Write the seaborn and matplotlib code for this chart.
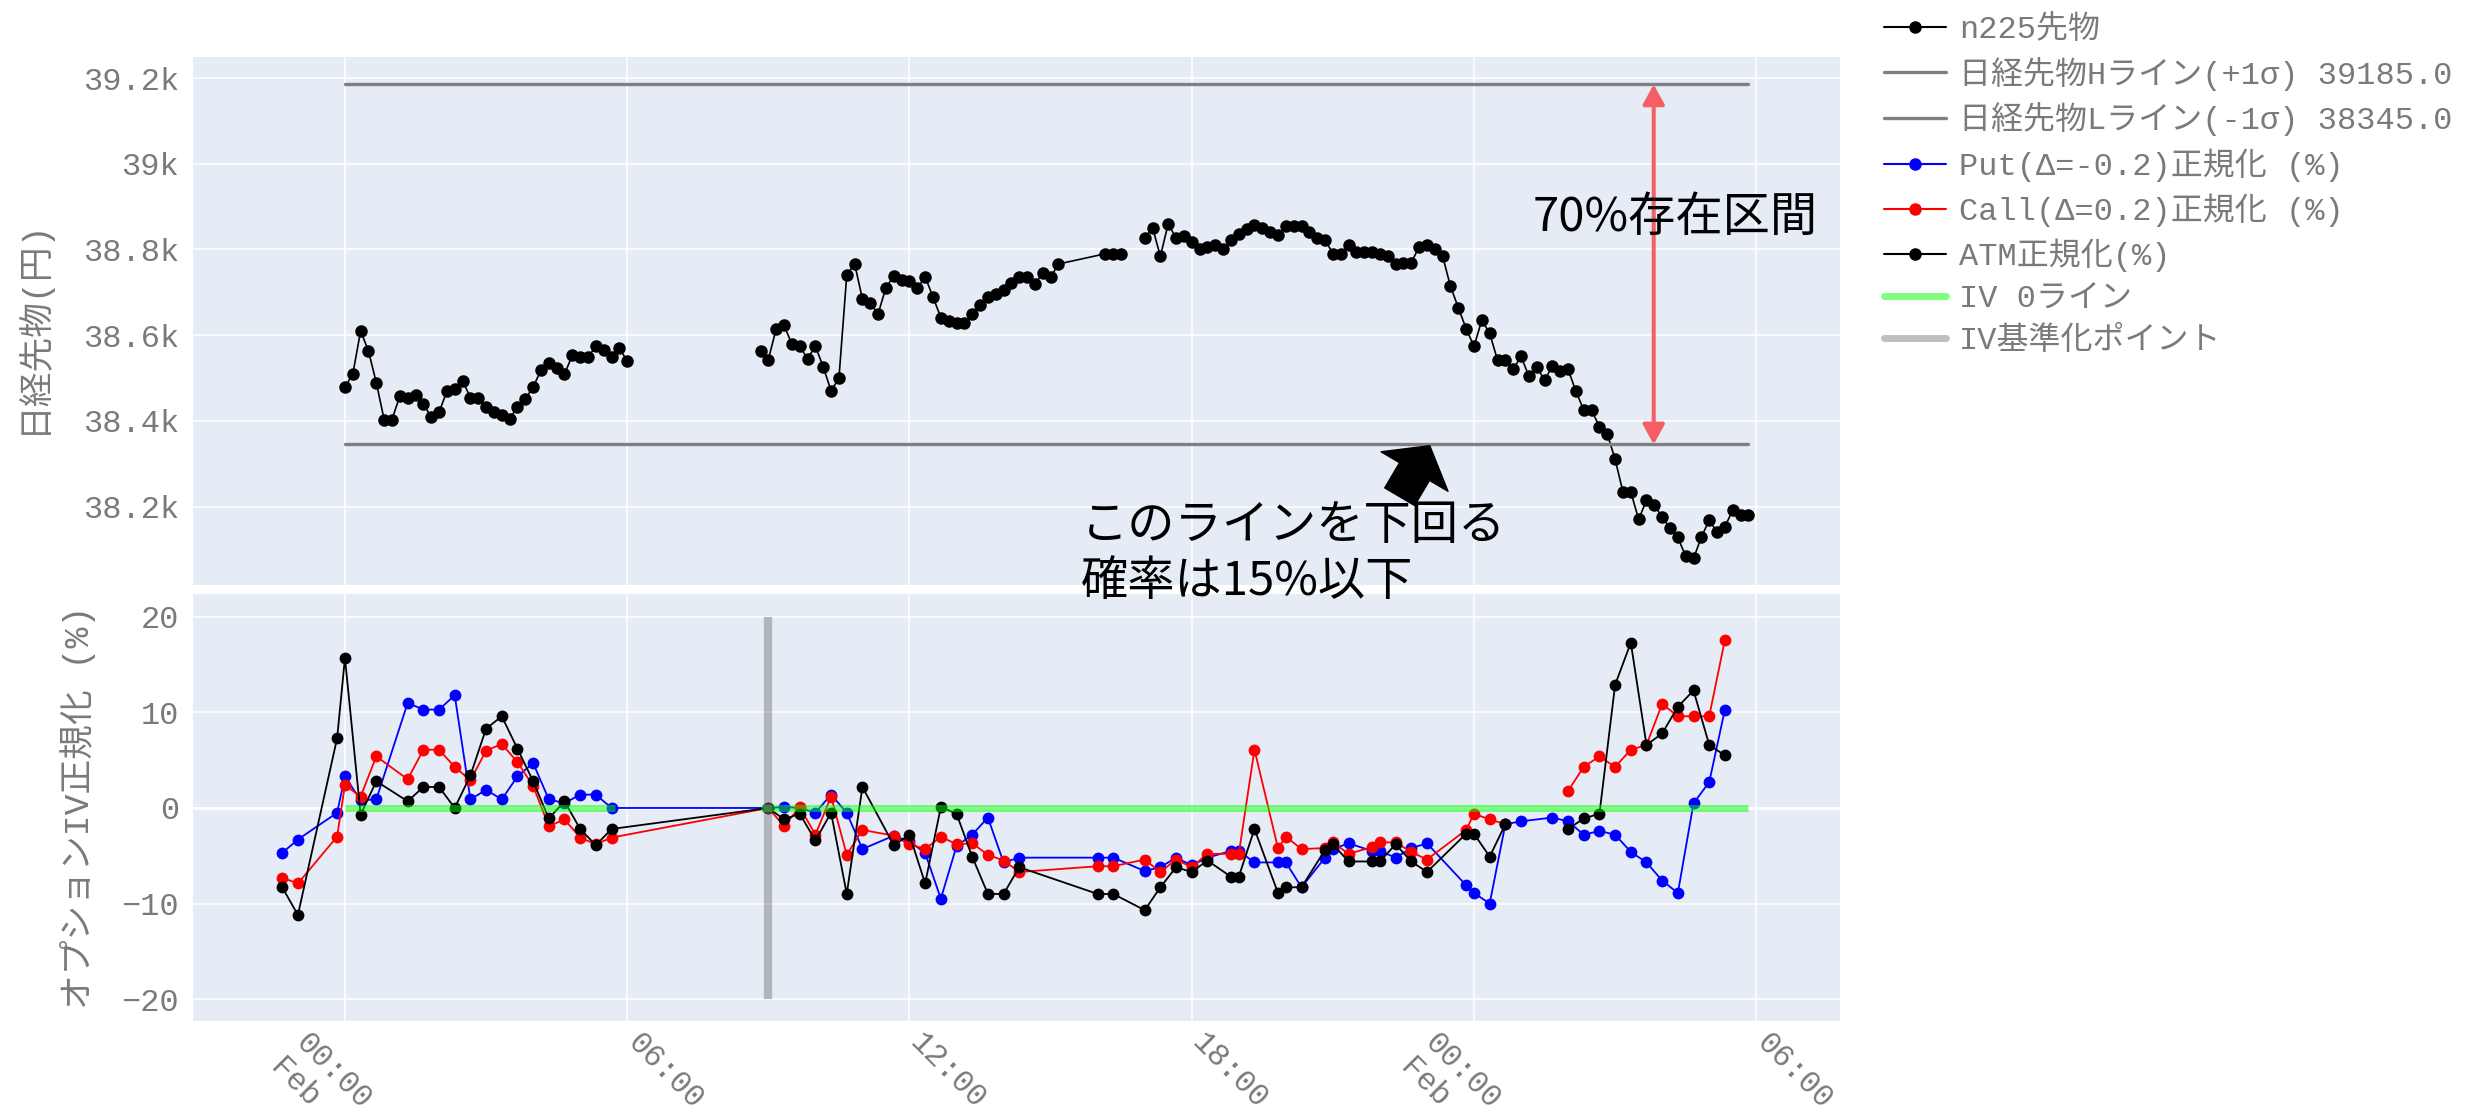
import numpy as np
import pandas as pd
import matplotlib
matplotlib.use("Agg")
import matplotlib.pyplot as plt
from matplotlib.lines import Line2D
import seaborn as sns

# ── futures (10-minute bars, minutes from Feb 00:00) ───────────────────────────
FUT_A_MIN = list(range(0, 361, 10))
FUT_A = [38479, 38509, 38610, 38563, 38489, 38403, 38403, 38458, 38454, 38460,
         38439, 38409, 38420, 38469, 38475, 38494, 38454, 38453, 38433, 38421,
         38413, 38404, 38433, 38450, 38479, 38518, 38535, 38524, 38509, 38553,
         38549, 38549, 38574, 38565, 38548, 38570, 38539]
FUT_B_MIN = list(range(530, 911, 10)) + [970, 980, 990]
FUT_B = [38563, 38543, 38615, 38623, 38579, 38574, 38545, 38574, 38526, 38470,
         38499, 38740, 38767, 38684, 38674, 38650, 38711, 38738, 38728, 38726,
         38709, 38736, 38689, 38641, 38633, 38629, 38629, 38650, 38670, 38689,
         38697, 38705, 38721, 38736, 38735, 38719, 38745, 38735, 38766,
         38790, 38790, 38790]
FUT_C_MIN = list(range(1020, 1791, 10))
FUT_C = [38826, 38851, 38784, 38860, 38826, 38831, 38818, 38800, 38806, 38810,
         38800, 38823, 38837, 38847, 38857, 38849, 38841, 38833, 38854, 38854,
         38855, 38841, 38826, 38823, 38790, 38790, 38810, 38794, 38794, 38794,
         38790, 38784, 38766, 38769, 38769, 38806, 38810, 38800, 38784, 38714,
         38664, 38615, 38574, 38635, 38604, 38542, 38542, 38520, 38551, 38504,
         38526, 38495, 38528, 38517, 38520, 38469, 38425, 38425, 38386, 38370,
         38310, 38234, 38234, 38170, 38215, 38203, 38176, 38149, 38128, 38084,
         38079, 38129, 38168, 38141, 38153, 38192, 38180, 38180]
H_LINE, L_LINE = 39185.0, 38345.0

# ── option IV normalised (%) ───────────────────────────────────────────────────
OPT_MIN = [-80, -60, -10, 0, 20, 40, 80, 100, 120, 140, 160, 180, 200, 220, 240,
           260, 280, 300, 320, 340,
           540, 560, 580, 600, 620, 640, 660, 700, 720, 740, 760, 780, 800, 820,
           840, 860, 960, 980, 1020, 1040, 1060, 1080, 1100, 1130, 1140, 1160,
           1190, 1200, 1220, 1250, 1260, 1280, 1310, 1320, 1340, 1360, 1380,
           1430, 1440, 1460, 1480, 1500, 1540, 1560, 1580, 1600, 1620, 1640,
           1660, 1680, 1700, 1720, 1740, 1760]
PUT = [-4.7, -3.3, -0.5, 3.3, 0.8, 0.9, 11.0, 10.3, 10.3, 11.8, 0.9, 1.9, 0.9,
       3.3, 4.7, 0.9, 0.5, 1.4, 1.4, 0.0,
       0.0, 0.1, 0.0, -0.5, 1.4, -0.5, -4.3, -2.9, -3.5, -4.7, -9.5, -4.0, -2.8,
       -1.0, -5.7, -5.2, -5.2, -5.2, -6.6, -6.2, -5.2, -6.0, -5.2, -4.5, -4.5,
       -5.7, -5.7, -5.7, -8.3, -5.2, -4.3, -3.7, -4.5, -4.5, -5.2, -4.2, -3.7,
       -8.1, -8.9, -10.0, -1.7, -1.4, -1.0, -1.4, -2.8, -2.4, -2.8, -4.6, -5.7,
       -7.6, -8.9, 0.5, 2.7, 10.3]
CALL = [-7.3, -7.9, -3.0, 2.4, 1.2, 5.4, 3.0, 6.1, 6.1, 4.3, 2.9, 6.0, 6.7, 4.8,
        2.3, -1.9, -1.2, -3.1, -3.8, -3.1,
        0.0, -1.9, 0.1, -2.8, 1.2, -4.9, -2.3, -2.9, -3.8, -4.3, -3.0, -3.8, -3.7,
        -4.9, -5.5, -6.7, -6.1, -6.1, -5.4, -6.7, -5.4, -6.2, -4.8, -4.8, -4.8,
        6.1, -4.2, -3.0, -4.3, -4.2, -3.6, -4.8, -4.1, -3.6, -3.6, -4.6, -5.4,
        -2.3, -0.6, -1.2, -1.7, np.nan, np.nan, 1.8, 4.3, 5.4, 4.3, 6.1, 6.6,
        10.9, 9.6, 9.6, 9.6, 17.6]
ATM = [-8.3, -11.2, 7.3, 15.7, -0.7, 2.8, 0.7, 2.2, 2.2, 0.0, 3.4, 8.3, 9.6, 6.2,
       2.8, -1.1, 0.7, -2.2, -3.9, -2.2,
       0.0, -1.2, -0.6, -3.4, -0.5, -9.0, 2.2, -3.9, -2.8, -7.9, 0.1, -0.6, -5.1,
       -9.0, -9.0, -6.2, -9.0, -9.0, -10.7, -8.3, -6.2, -6.7, -5.5, -7.2, -7.2,
       -2.2, -8.9, -8.3, -8.3, -4.4, -3.8, -5.6, -5.6, -5.6, -3.8, -5.6, -6.7,
       -2.7, -2.7, -5.1, -1.7, np.nan, np.nan, -2.2, -1.1, -0.6, 12.9, 17.3, 6.6,
       7.8, 10.6, 12.3, 6.6, 5.5]
IV0_START = [0, 530]
IV0_END = [345, 1790]
IV_BASE_MIN = 540

TICK_H = [0, 6, 12, 18, 24, 30]
TICK_LBL = ["00:00\nFeb", "06:00", "12:00", "18:00", "00:00\nFeb", "06:00"]

MONO_JP = ["Liberation Mono", "Noto Sans CJK JP"]
GREY_TXT = "#7a7a7a"

sns.set_theme(style="darkgrid", rc={"axes.facecolor": "#E5ECF6",
                                    "grid.color": "white",
                                    "grid.linewidth": 1.1,
                                    "axes.edgecolor": "none"})
plt.rcParams["font.family"] = MONO_JP
plt.rcParams["axes.unicode_minus"] = True


def segments(minutes, values):
    df = pd.DataFrame({"h": np.array(minutes) / 60.0, "v": values})
    df["seg"] = df["v"].isna().cumsum()
    return df.dropna()


fut = pd.concat([
    pd.DataFrame({"h": np.array(m) / 60.0, "v": v, "seg": i})
    for i, (m, v) in enumerate([(FUT_A_MIN, FUT_A), (FUT_B_MIN, FUT_B),
                                (FUT_C_MIN, FUT_C)])])

W, H = 2478, 1115
fig = plt.figure(figsize=(W / 100, H / 100), dpi=100)
L, R = 193, 1840
ax1 = fig.add_axes([L / W, 1 - 585 / H, (R - L) / W, (585 - 57) / H])
ax2 = fig.add_axes([L / W, 1 - 1021 / H, (R - L) / W, (1021 - 594) / H])
ax1.set_zorder(2)   # annotations of the upper panel stay on top

# upper: futures
sns.lineplot(data=fut, x="h", y="v", units="seg", estimator=None, sort=False,
             color="black", marker="o", markersize=9, markeredgewidth=0,
             linewidth=1.2, legend=False, ax=ax1)
x0, x1 = FUT_A_MIN[0] / 60, FUT_C_MIN[-1] / 60
ax1.plot([x0, x1], [H_LINE, H_LINE], color="#808080", lw=2.4)
ax1.plot([x0, x1], [L_LINE, L_LINE], color="#808080", lw=2.4)

# lower: option IV
for vals, col in [(PUT, "blue"), (CALL, "red"), (ATM, "black")]:
    sns.lineplot(data=segments(OPT_MIN, vals), x="h", y="v", units="seg",
                 estimator=None, sort=False, color=col, marker="o",
                 markersize=8.5, markeredgewidth=0, linewidth=1.3,
                 legend=False, ax=ax2, zorder=2)
ax2.axhline(0, color="white", lw=2, zorder=1)
for s, e in zip(IV0_START, IV0_END):
    ax2.plot([s / 60, e / 60], [0, 0], color=(0, 1, 0, 0.5), lw=5, zorder=3,
             solid_capstyle="butt")
ax2.plot([IV_BASE_MIN / 60] * 2, [-20, 20], color=(0.5, 0.5, 0.5, 0.5), lw=6,
         zorder=4, solid_capstyle="butt")

for ax in (ax1, ax2):
    ax.set_xlim(-3.23, 31.78)
    ax.set_xticks(TICK_H)
    ax.set_xticklabels([])
    ax.tick_params(length=0, labelsize=23, labelcolor=GREY_TXT, pad=10)
    ax.set_xlabel("")

# rotated time labels (two-line labels sit further left, like the original)
for h, lbl in zip(TICK_H, TICK_LBL):
    dx = -25 if "\n" in lbl else 11
    ax2.annotate(lbl, xy=(h, 0), xycoords=("data", "axes fraction"),
                 xytext=(dx, -5), textcoords="offset points", fontsize=22.5,
                 color=GREY_TXT, rotation=-45, rotation_mode="anchor",
                 ha="left", va="top", multialignment="left",
                 annotation_clip=False)

ax1.set_ylim(38017, 39249)
ax1.set_yticks([38200, 38400, 38600, 38800, 39000, 39200])
ax1.set_yticklabels(["38.2k", "38.4k", "38.6k", "38.8k", "39k", "39.2k"])
ax2.set_ylim(-22.3, 22.4)
ax2.set_yticks([-20, -10, 0, 10, 20])
ax2.set_yticklabels(["\u221220", "\u221210", "0", "10", "20"])

ax1.set_ylabel("日経先物(円)", fontsize=25, color=GREY_TXT)
ax2.set_ylabel("オプションIV正規化 (%)", fontsize=25, color=GREY_TXT)
ax1.yaxis.set_label_coords(-0.087, 0.49)
ax2.yaxis.set_label_coords(-0.059, 0.5)

# annotations
ax1.annotate("", xy=(27.82, H_LINE), xytext=(27.82, L_LINE),
             arrowprops=dict(arrowstyle="<|-|>,head_length=0.6,head_width=0.33",
                             mutation_scale=20, color="#F55E62", lw=2.9,
                             shrinkA=0, shrinkB=0))
ax1.text(25.25, 38875, "70%存在区間", fontsize=34, family="Noto Sans CJK JP",
         color="black", ha="left", va="center")
ax1.annotate("", xy=(23.06, 38342), xytext=(22.42, 38223),
             arrowprops=dict(arrowstyle="simple,head_length=1.08,head_width=2.8,"
                                        "tail_width=1.25",
                             mutation_scale=20, fc="black", ec="black",
                             shrinkA=0, shrinkB=0), annotation_clip=False)
ax1.text(15.64, 38090, "このラインを下回る\n確率は15%以下", fontsize=34,
         family="Noto Sans CJK JP", color="black", ha="left", va="center",
         linespacing=1.22, clip_on=False)

# legend
handles = [
    Line2D([], [], color="black", lw=1.5, marker="o", ms=8),
    Line2D([], [], color="#808080", lw=2.4),
    Line2D([], [], color="#808080", lw=2.4),
    Line2D([], [], color="blue", lw=1.5, marker="o", ms=8),
    Line2D([], [], color="red", lw=1.5, marker="o", ms=8),
    Line2D([], [], color="black", lw=1.5, marker="o", ms=8),
    Line2D([], [], color=(0, 1, 0, 0.5), lw=5),
    Line2D([], [], color=(0.5, 0.5, 0.5, 0.5), lw=5),
]
labels = ["n225先物",
          f"日経先物Hライン(+1σ) {H_LINE:.1f}",
          f"日経先物Lライン(-1σ) {L_LINE:.1f}",
          "Put(Δ=-0.2)正規化 (%)",
          "Call(Δ=0.2)正規化 (%)",
          "ATM正規化(%)",
          "IV 0ライン",
          "IV基準化ポイント"]
fig.legend(handles, labels, loc="upper left", bbox_to_anchor=(1871 / W, 1 - 2 / H),
           frameon=False, fontsize=23, labelcolor=GREY_TXT, handlelength=1.95,
           handletextpad=0.4, labelspacing=0.37, borderaxespad=0)

fig.savefig("out.png", dpi=100, facecolor="white")
